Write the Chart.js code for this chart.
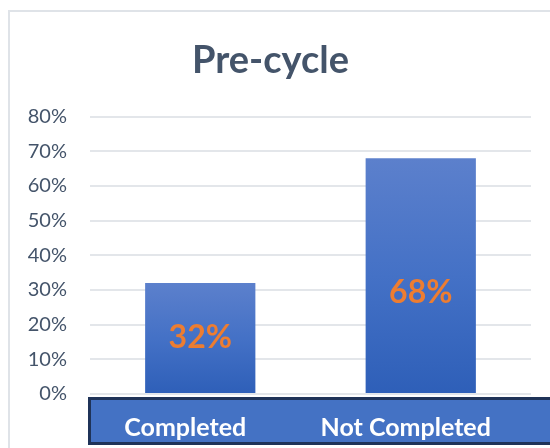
<!DOCTYPE html>
<html>
<head>
<meta charset="utf-8">
<script src="https://cdn.jsdelivr.net/npm/chart.js@4"></script>
<style>
  html, body { margin: 0; padding: 0; background: #ffffff; }
  #wrap { width: 550px; height: 448px; position: relative; }
</style>
</head>
<body>
<div id="wrap"><canvas id="c" width="550" height="448"></canvas></div>
<script>
const categories = ["Completed", "Not Completed"];
const values = [32, 68];
const yTicks = [0, 10, 20, 30, 40, 50, 60, 70, 80];
const titleText = "Pre-cycle";

const slate = '#44546a';

const frame = {
  id: 'frame',
  beforeDraw(chart) {
    const c = chart.ctx;
    c.save();
    c.fillStyle = '#ffffff';
    c.fillRect(0, 0, chart.width, chart.height);
    c.strokeStyle = '#dfe3e8';
    c.lineWidth = 2;
    c.beginPath();
    c.moveTo(9, chart.height + 5);
    c.lineTo(9, 11);
    c.lineTo(chart.width + 5, 11);
    c.stroke();
    // x-axis band
    const xs = chart.scales.x;
    const top = xs.top + 4;
    c.fillStyle = '#4472c4';
    c.fillRect(89, top, chart.width, 45);
    c.strokeStyle = '#1f3358';
    c.lineWidth = 3;
    c.strokeRect(89.5, top + 0.5, chart.width, 45);
    c.restore();
  }
};

const barLabels = {
  id: 'barLabels',
  afterDatasetsDraw(chart, args, opts) {
    const c = chart.ctx;
    const meta = chart.getDatasetMeta(0);
    c.save();
    c.font = 'bold 32px Lato';
    c.fillStyle = '#ed7d31';
    c.textAlign = 'center';
    c.textBaseline = 'middle';
    meta.data.forEach((el, i) => {
      const off = (opts.offsets && opts.offsets[i]) || 0;
      c.fillText(values[i] + '%', el.x, (el.y + el.base) / 2 + off);
    });
    c.restore();
  }
};

new Chart(document.getElementById('c'), {
  type: 'bar',
  data: {
    labels: categories,
    datasets: [{
      data: values,
      barPercentage: 0.5,
      categoryPercentage: 1,
      backgroundColor(ctx) {
        const chart = ctx.chart;
        if (!chart.chartArea) return '#4472c4';
        const ys = chart.scales.y;
        const t = ys.getPixelForValue(ctx.raw);
        const b = ys.getPixelForValue(0);
        const g = chart.ctx.createLinearGradient(0, t, 0, b);
        g.addColorStop(0, '#5c80cc');
        g.addColorStop(0.5, '#4471c6');
        g.addColorStop(1, '#2e5fb8');
        return g;
      },
      borderWidth: 0
    }]
  },
  options: {
    responsive: false,
    animation: false,
    devicePixelRatio: 1,
    layout: { padding: { left: 10, right: 19, top: 12, bottom: 3 } },
    plugins: {
      legend: { display: false },
      tooltip: { enabled: false },
      title: {
        display: true,
        text: titleText,
        color: slate,
        font: { family: 'Lato', size: 38, weight: 'bold' },
        padding: { top: 26, bottom: 33 }
      },
      barLabels: { offsets: [0, 17] }
    },
    scales: {
      x: {
        grid: { display: false },
        border: { display: false },
        ticks: {
          color: '#ffffff',
          font: { family: 'Lato', size: 25, weight: 'bold' },
          labelOffset: -15,
          padding: 11,
          maxRotation: 0
        },
        afterFit(scale) { scale.height = 51; }
      },
      y: {
        min: 0,
        max: 80,
        afterBuildTicks(scale) { scale.ticks = yTicks.map(v => ({ value: v })); },
        grid: { color: '#e3e6ea', lineWidth: 2, drawTicks: false },
        border: { display: false },
        ticks: {
          color: slate,
          font: { family: 'Lato', size: 20 },
          padding: 23,
          callback: v => v + '%'
        },
        afterFit(scale) { scale.width = 80; }
      }
    }
  },
  plugins: [frame, barLabels]
});
</script>
</body>
</html>
